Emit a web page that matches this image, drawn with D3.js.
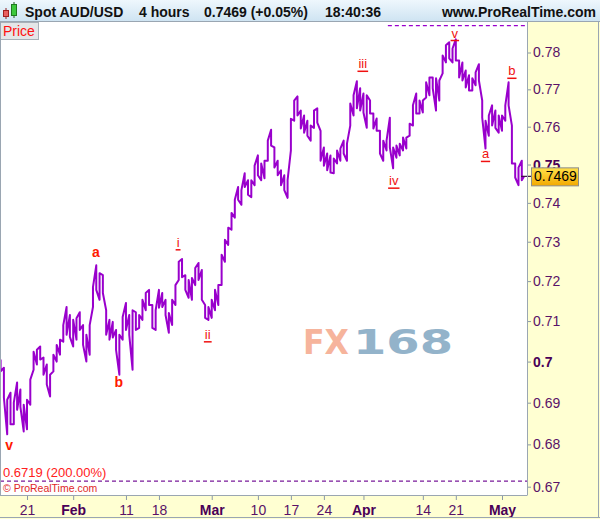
<!DOCTYPE html>
<html><head><meta charset="utf-8">
<script src="https://cdn.jsdelivr.net/npm/d3@7"></script>
<style>html,body{margin:0;padding:0;background:#fff;}svg{display:block;font-family:Arial,"Liberation Sans",sans-serif;}</style>
</head><body><svg id="c" width="600" height="519"></svg>
<script>
// ---------- data ----------
const startDay = -4, stepDay = 0.5; // trading-day index of first half-day bar (0 = Jan 21)
const highs = [0.7005,0.6985,0.6907,0.6924,0.6900,0.6949,0.6932,0.6895,0.6907,0.6956,
0.7024,0.7029,0.7037,0.7010,0.6993,0.6968,0.7017,0.7041,0.7054,0.7090,
0.7135,0.7115,0.7103,0.7107,0.7122,0.7090,0.7066,0.7090,0.7185,0.7240,
0.7220,0.7215,0.7127,0.7103,0.7098,0.7078,0.7066,0.7110,0.7145,0.7115,
0.7127,0.7122,0.7115,0.7153,0.7170,0.7178,0.7140,0.7127,0.7178,0.7170,
0.7153,0.7120,0.7153,0.7190,0.7249,0.7256,0.7215,0.7203,0.7208,0.7233,
0.7246,0.7228,0.7140,0.7135,0.7153,0.7178,0.7190,0.7267,0.7305,0.7336,
0.7374,0.7408,0.7441,0.7433,0.7477,0.7459,0.7459,0.7497,0.7524,0.7503,
0.7510,0.7563,0.7592,0.7545,0.7510,0.7485,0.7472,0.7459,0.7621,0.7670,
0.7681,0.7643,0.7630,0.7616,0.7603,0.7643,0.7649,0.7589,0.7545,0.7529,
0.7524,0.7516,0.7537,0.7542,0.7563,0.7555,0.7662,0.7684,0.7722,0.7703,
0.7689,0.7684,0.7670,0.7635,0.7622,0.7589,0.7563,0.7563,0.7624,0.7545,
0.7550,0.7555,0.7571,0.7571,0.7608,0.7657,0.7689,0.7670,0.7670,0.7719,
0.7732,0.7732,0.7730,0.7724,0.7792,0.7820,0.7828,0.7811,0.7836,0.7778,
0.7773,0.7751,0.7738,0.7730,0.7746,0.7768,0.7670,0.7616,0.7630,0.7657,
0.7643,0.7630,0.7630,0.7657,0.7719,0.7603,0.7503,0.7492,0.7510];
const lows = [0.6976,0.6912,0.6824,0.6848,0.6848,0.6883,0.6890,0.6831,0.6836,0.6895,
0.6980,0.6993,0.7005,0.6968,0.6944,0.6915,0.6976,0.7000,0.7017,0.7049,
0.7066,0.7061,0.7037,0.7054,0.7078,0.7041,0.7000,0.7017,0.7135,0.7178,
0.7153,0.7170,0.7066,0.7054,0.7059,0.7029,0.6968,0.7054,0.7078,0.7066,
0.6980,0.7078,0.7083,0.7103,0.7127,0.7140,0.7083,0.7078,0.7133,0.7135,
0.7115,0.7071,0.7090,0.7140,0.7203,0.7210,0.7178,0.7158,0.7153,0.7190,
0.7203,0.7153,0.7108,0.7103,0.7108,0.7127,0.7140,0.7190,0.7249,0.7292,
0.7331,0.7362,0.7408,0.7395,0.7441,0.7421,0.7415,0.7446,0.7472,0.7459,
0.7464,0.7510,0.7550,0.7492,0.7472,0.7446,0.7433,0.7413,0.7537,0.7616,
0.7630,0.7595,0.7584,0.7576,0.7563,0.7597,0.7611,0.7510,0.7497,0.7485,
0.7479,0.7477,0.7503,0.7510,0.7529,0.7510,0.7603,0.7630,0.7649,0.7643,
0.7638,0.7597,0.7635,0.7595,0.7589,0.7529,0.7510,0.7537,0.7545,0.7490,
0.7518,0.7524,0.7537,0.7542,0.7576,0.7603,0.7635,0.7635,0.7638,0.7678,
0.7684,0.7703,0.7643,0.7670,0.7743,0.7773,0.7784,0.7773,0.7778,0.7732,
0.7724,0.7705,0.7697,0.7697,0.7711,0.7724,0.7624,0.7542,0.7576,0.7603,
0.7597,0.7584,0.7589,0.7616,0.7657,0.7503,0.7466,0.7446,0.7459];
const lastPrice = 0.7469;
const yTicks = [0.67,0.68,0.69,0.70,0.71,0.72,0.73,0.74,0.75,0.76,0.77,0.78];
const yBold = [0.70,0.75];
const xTickDays = [0,7,15,20,28,35,40,45,51,60,65,72];
const xTickLabels = ["21","Feb","11","18","Mar","10","17","24","Apr","14","21","May"];
const monthLabels = ["Feb","Mar","Apr","May"];
const waveLabels = [
  {t:"v",  d:-2.7, p:0.6786, bold:true},
  {t:"a",  d:10.45,p:0.7262, bold:true},
  {t:"b",  d:13.9, p:0.6939, bold:true},
  {t:"i",  d:22.9, p:0.7287},
  {t:"ii", d:27.4, p:0.7056},
  {t:"iii",d:50.9, p:0.7757},
  {t:"iv", d:55.6, p:0.7446},
  {t:"v",  d:64.85,p:0.7841},
  {t:"a",  d:69.5, p:0.7516},
  {t:"b",  d:73.5, p:0.7738}
];
const fibLevel = 0.6719, fibText = "0.6719 (200.00%)";
const topLevel = 0.7874, topStartDay = 54.7;
const headerTexts = ["Spot AUD/USD","4 hours","0.7469 (+0.05%)","18:40:36"];

// ---------- layout ----------
const W=600,H=519, PL=0, PR=527, PT=22, PB=495;
const svg=d3.select("#c");
const x=d3.scaleLinear().domain([0,72]).range([27,502]);
const y=d3.scaleLog().domain([0.67,0.78]).range([486.7,52.5]);
const purple="#9900cc", axisCol="#5a1268", red="#f01010";

// backgrounds
svg.append("rect").attr("width",W).attr("height",H).attr("fill","#ffffd2");
const defs=svg.append("defs");
const hg=defs.append("linearGradient").attr("id","hg").attr("x1",0).attr("x2",0).attr("y1",0).attr("y2",1);
hg.append("stop").attr("offset","0%").attr("stop-color","#eef7fd");
hg.append("stop").attr("offset","100%").attr("stop-color","#cde3f2");
const gg=defs.append("linearGradient").attr("id","gg").attr("x1",0).attr("x2",0).attr("y1",0).attr("y2",1);
gg.append("stop").attr("offset","0%").attr("stop-color","#ffe14a");
gg.append("stop").attr("offset","100%").attr("stop-color","#f2a900");
defs.append("clipPath").attr("id","pc").append("rect").attr("x",PL).attr("y",PT).attr("width",PR-PL).attr("height",PB-PT);

svg.append("rect").attr("x",0).attr("y",0).attr("width",W).attr("height",PT).attr("fill","url(#hg)");
svg.append("line").attr("x1",0).attr("x2",W).attr("y1",PT-0.5).attr("y2",PT-0.5).attr("stroke","#9aa6b2");
svg.append("rect").attr("x",PL).attr("y",PT).attr("width",PR-PL).attr("height",PB-PT).attr("fill","#fff");

// header icon
svg.append("line").attr("x1",6).attr("x2",6).attr("y1",8).attr("y2",19).attr("stroke","#902020");
svg.append("rect").attr("x",3.5).attr("y",10.5).attr("width",5).attr("height",6).attr("fill","#e86060").attr("stroke","#a02020");
svg.append("line").attr("x1",14).attr("x2",14).attr("y1",2).attr("y2",18).attr("stroke","#206020");
svg.append("rect").attr("x",11.5).attr("y",4.5).attr("width",5).attr("height",11).attr("fill","#3cc83c").attr("stroke","#1f7a1f");
// header texts
const hx=[25,139,204,325];
headerTexts.forEach((t,i)=>svg.append("text").attr("x",hx[i]).attr("y",16.5).attr("font-size",14).attr("font-weight","bold").attr("fill","#111").text(t));
svg.append("text").attr("x",596).attr("y",16.5).attr("text-anchor","end").attr("font-size",14).attr("font-weight","bold").attr("fill","#111").text("www.ProRealTime.com");

// watermark
svg.append("text").attr("x",303).attr("y",354).attr("font-family","DejaVu Sans").attr("font-weight","bold").attr("font-size",34)
  .attr("textLength",46).attr("lengthAdjust","spacingAndGlyphs").attr("fill","#f6b49c").text("FX");
svg.append("text").attr("x",353).attr("y",354).attr("font-family","DejaVu Sans").attr("font-weight","bold").attr("font-size",34)
  .attr("textLength",100).attr("lengthAdjust","spacingAndGlyphs").attr("fill","#93b3ca").text("168");

// "Price" tag
svg.append("rect").attr("x",0.5).attr("y",PT+0.5).attr("width",38).attr("height",17).attr("fill","#e4e6e8").attr("stroke","#a8b0b8");
svg.append("text").attr("x",3).attr("y",PT+14).attr("font-size",14).attr("fill","#ff1010").text("Price");

// dashed levels
const plot=svg.append("g").attr("clip-path","url(#pc)");
plot.append("line").attr("x1",x(topStartDay)).attr("x2",PR).attr("y1",y(topLevel)).attr("y2",y(topLevel))
  .attr("stroke",purple).attr("stroke-width",1.3).attr("stroke-dasharray","4,3");
const fy=y(fibLevel)+2.5;
plot.append("line").attr("x1",PL).attr("x2",PR).attr("y1",fy).attr("y2",fy)
  .attr("stroke","#7a1a9a").attr("stroke-width",1.2).attr("stroke-dasharray","4,3");
svg.append("text").attr("x",3).attr("y",fy-4).attr("font-size",13).attr("fill","#ff2020").text(fibText);
svg.append("text").attr("x",3).attr("y",fy+10.5).attr("font-size",10.5).attr("fill","#e02828").text("\u00a9 ProRealTime.com");

// price series: half-day high/low bars joined into one jagged path
const pts=[];
highs.forEach((h,i)=>{
  const l=lows[i], xi=x(startDay+i*stepDay), mid=(h+l)/2;
  const nextMid = i<highs.length-1 ? (highs[i+1]+lows[i+1])/2 : lastPrice;
  if(nextMid>=mid){pts.push([xi,y(l)],[xi,y(h)]);} else {pts.push([xi,y(h)],[xi,y(l)]);}
});
pts.push([x(startDay+highs.length*stepDay)-1,y(lastPrice)]);
plot.append("path").attr("d",d3.line()(pts)).attr("fill","none").attr("stroke",purple)
  .attr("stroke-width",2).attr("stroke-linejoin","round");

// wave labels
waveLabels.forEach(w=>{
  const t=svg.append("text").attr("x",x(w.d)).attr("y",y(w.p)).attr("text-anchor","middle")
    .attr("font-size",w.bold?14:13).attr("font-weight",w.bold?"bold":"normal").attr("fill",w.bold?"#ff1a00":red).text(w.t);
  if(!w.bold){
    const len=t.node().getComputedTextLength();
    svg.append("line").attr("x1",x(w.d)-len/2-1).attr("x2",x(w.d)+len/2+1)
      .attr("y1",y(w.p)+3).attr("y2",y(w.p)+3).attr("stroke",red).attr("stroke-width",1.5);
  }
});

// y axis (right)
const yAxis=svg.append("g").attr("transform",`translate(${PR},0)`)
  .call(d3.axisRight(y).tickValues(yTicks).tickSize(4).tickPadding(2).tickFormat(d=>String(+d.toFixed(2))));
yAxis.select(".domain").remove();
yAxis.selectAll(".tick line").attr("stroke","#8a98a8");
yAxis.selectAll(".tick text").attr("font-size",14).attr("font-family","Arial, 'Liberation Sans', sans-serif")
  .attr("fill",d=>yBold.some(b=>Math.abs(b-d)<1e-9)?"#4a0058":axisCol)
  .attr("font-weight",d=>yBold.some(b=>Math.abs(b-d)<1e-9)?"bold":"normal");

// x axis (bottom)
const xAxis=svg.append("g").attr("transform",`translate(0,${PB})`)
  .call(d3.axisBottom(x).tickValues(xTickDays).tickSize(5).tickPadding(5).tickFormat((d,i)=>xTickLabels[i]));
xAxis.select(".domain").remove();
xAxis.selectAll(".tick line").attr("stroke","#8a98a8");
xAxis.selectAll(".tick text").attr("font-size",14).attr("font-family","Arial, 'Liberation Sans', sans-serif")
  .attr("fill",(d,i)=>monthLabels.includes(xTickLabels[i])?"#4a0058":axisCol)
  .attr("font-weight",(d,i)=>monthLabels.includes(xTickLabels[i])?"bold":"normal");

// current price marker
const cy=y(lastPrice);
svg.append("line").attr("x1",521).attr("x2",531).attr("y1",cy).attr("y2",cy).attr("stroke","#3a1040").attr("stroke-width",1.2);
svg.append("rect").attr("x",531.5).attr("y",cy-8.5).attr("width",47).attr("height",18).attr("fill","url(#gg)").attr("stroke","#8c8c8c");
svg.append("text").attr("x",534).attr("y",cy+5).attr("font-size",14).attr("fill","#000").text(lastPrice.toFixed(4));

// borders
svg.append("line").attr("x1",PR+0.5).attr("x2",PR+0.5).attr("y1",PT).attr("y2",PB).attr("stroke","#9aa6b2");
svg.append("line").attr("x1",0).attr("x2",PR+0.5).attr("y1",PB+0.5).attr("y2",PB+0.5).attr("stroke","#9aa6b2");
svg.append("line").attr("x1",0.5).attr("x2",0.5).attr("y1",PT).attr("y2",PB).attr("stroke","#9aa6b2");
svg.append("line").attr("x1",0).attr("x2",W).attr("y1",517.5).attr("y2",517.5).attr("stroke","#9aa6b2");
svg.append("line").attr("x1",598.5).attr("x2",598.5).attr("y1",PT).attr("y2",518).attr("stroke","#9aa6b2");
</script></body></html>
